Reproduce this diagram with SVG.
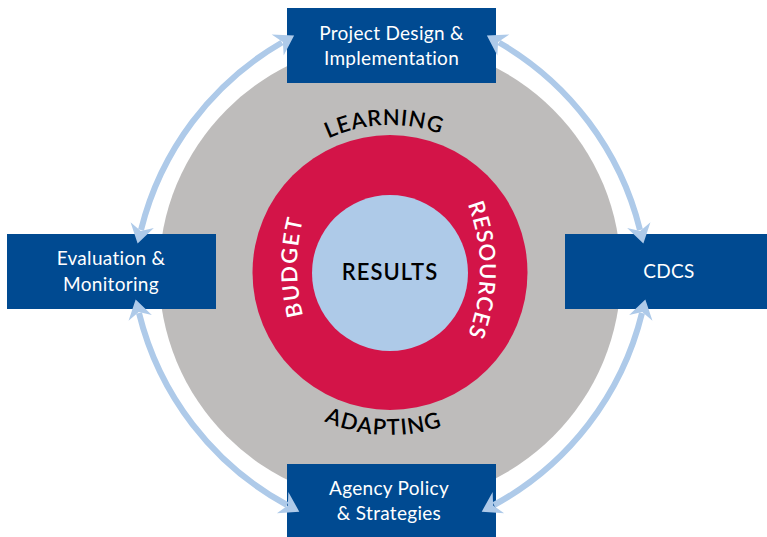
<svg xmlns="http://www.w3.org/2000/svg" xmlns:xlink="http://www.w3.org/1999/xlink" width="767" height="537" viewBox="0 0 767 537">
<style>
.box{fill:#004A91}
.bt{fill:#ffffff;font-family:Lato,"Open Sans","Liberation Sans",sans-serif;font-size:19px;letter-spacing:0.3px;text-anchor:middle}
.arc{fill:none;stroke:#AECAE9;stroke-width:6}
.ring{font-family:Lato,"Open Sans","Liberation Sans",sans-serif;font-weight:600;text-anchor:middle}
</style>
<defs>
<marker id="ah" markerUnits="userSpaceOnUse" markerWidth="40" markerHeight="40" refX="0" refY="0" orient="auto-start-reverse" overflow="visible">
<path d="M14,0 L-5,-12 L1,0 L-5,12 Z" fill="#AECAE9"/>
</marker>
<path id="pLearn" d="M243,272 A147,147 0 0 1 537,272"/>
<path id="pAdapt" d="M227,272 A163,163 0 0 0 553,272"/>
<path id="pBudget" d="M322.9,363.5 A193,193 0 0 1 322.9,170.5"/>
<path id="pRes" d="M415,130.6 A182,182 0 0 1 415,409.4"/>
</defs>

<g id="circles">
<circle cx="390" cy="273" r="231" fill="#BEBCBB"/>
<circle cx="390" cy="272.5" r="137.5" fill="#D31448"/>
<circle cx="390" cy="273" r="78" fill="#AECAE8"/>
</g>

<g id="ring-labels">
<text class="ring" font-size="22" fill="#000" letter-spacing="0.8"><textPath xlink:href="#pLearn" href="#pLearn" startOffset="225">LEARNING</textPath></text>
<text class="ring" font-size="22" fill="#000" letter-spacing="1.2"><textPath xlink:href="#pAdapt" href="#pAdapt" startOffset="249">ADAPTING</textPath></text>
<text class="ring" font-size="22" fill="#fff" letter-spacing="1.5"><textPath xlink:href="#pBudget" href="#pBudget" startOffset="50%">BUDGET</textPath></text>
<text class="ring" font-size="22" fill="#fff" letter-spacing="1"><textPath xlink:href="#pRes" href="#pRes" startOffset="50%">RESOURCES</textPath></text>
</g>

<g id="results">
<text class="ring" x="390" y="280" font-size="22" fill="#000" letter-spacing="1">RESULTS</text>
</g>

<g id="node-project">
<rect class="box" x="287" y="8" width="209" height="75"/>
<text class="bt" x="391.5" y="40">Project Design &amp;</text>
<text class="bt" x="391.5" y="65">Implementation</text>
</g>
<g id="node-eval">
<rect class="box" x="7" y="234" width="209" height="75"/>
<text class="bt" x="111" y="265">Evaluation &amp;</text>
<text class="bt" x="111" y="291">Monitoring</text>
</g>
<g id="node-cdcs">
<rect class="box" x="565" y="234" width="202" height="75"/>
<text class="bt" x="669" y="278">CDCS</text>
</g>
<g id="node-agency">
<rect class="box" x="287" y="464" width="209" height="73"/>
<text class="bt" x="389" y="495">Agency Policy</text>
<text class="bt" x="389" y="520">&amp; Strategies</text>
</g>

<g id="connectors">
<path class="arc" marker-start="url(#ah)" marker-end="url(#ah)" d="M282,42.5 A300,300 0 0 0 141,230"/>
<path class="arc" marker-start="url(#ah)" marker-end="url(#ah)" d="M499,42.5 A300,300 0 0 1 640,230"/>
<path class="arc" marker-start="url(#ah)" marker-end="url(#ah)" d="M139,313 A300,300 0 0 0 287,505"/>
<path class="arc" marker-start="url(#ah)" marker-end="url(#ah)" d="M642,313 A300,300 0 0 1 494,505"/>
</g>
</svg>
